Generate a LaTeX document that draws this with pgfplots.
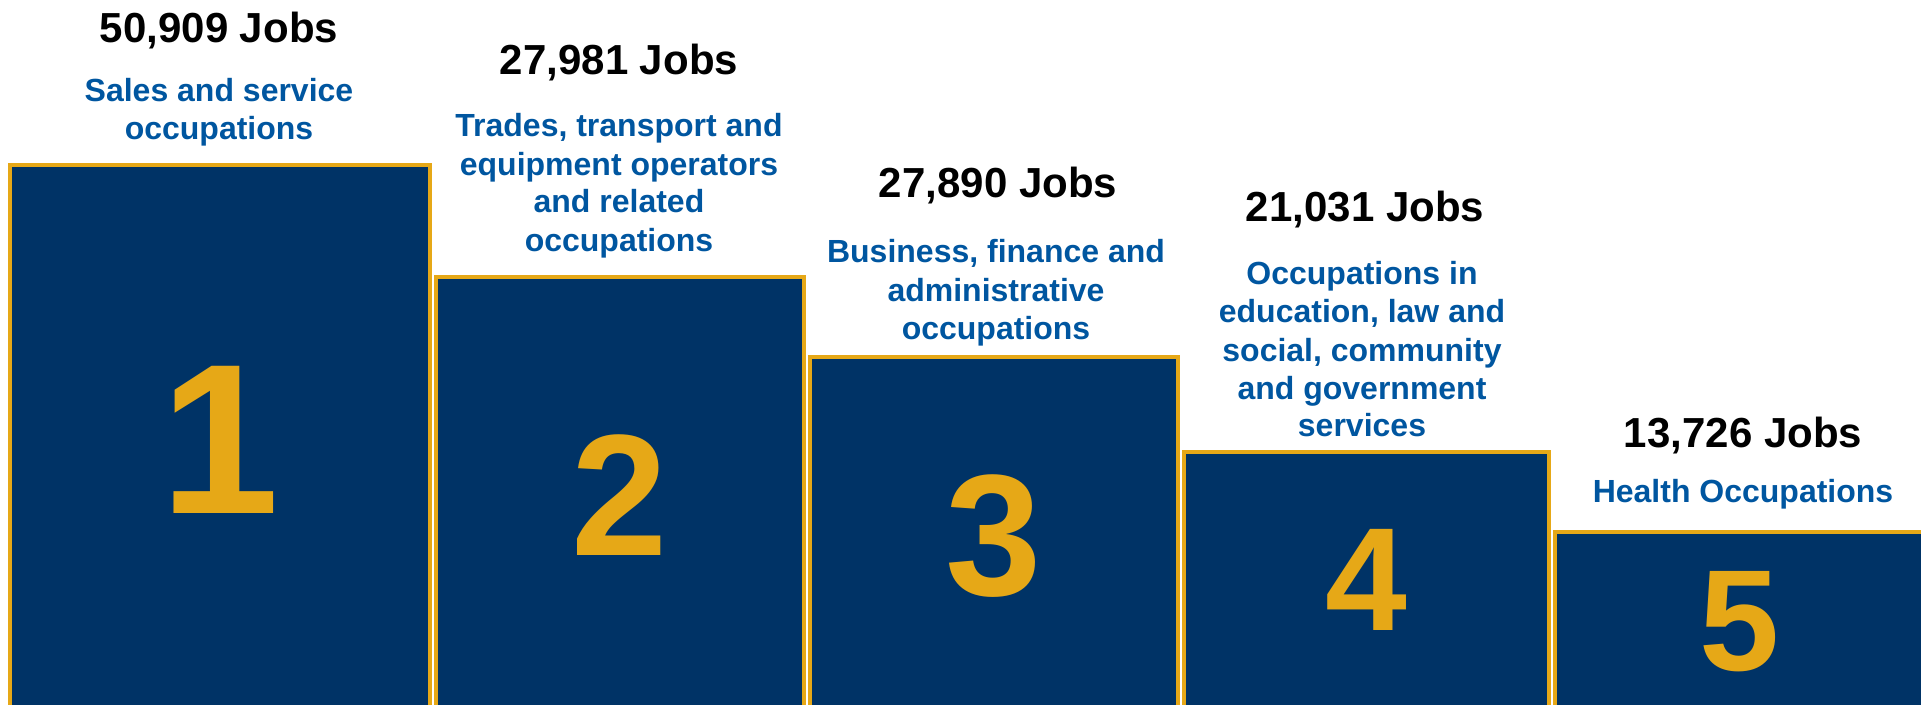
\documentclass[border=0pt]{standalone}
\usepackage{fontspec}
\setmainfont{Liberation Sans}
\usepackage{pgfplots}
\pgfplotsset{compat=1.18}
\definecolor{navy}{RGB}{0,51,102}
\definecolor{gold}{RGB}{230,168,23}
\definecolor{lblue}{RGB}{0,86,160}
\tikzset{
  jobs/.style={anchor=base, inner sep=0pt, font=\fontsize{21}{25}\selectfont\bfseries, text=black},
  occ/.style={anchor=base, inner sep=0pt, font=\fontsize{16}{19}\selectfont\bfseries, text=lblue},
  rank/.style={anchor=center, inner sep=0pt, text=gold}
}
\begin{document}
\begin{tikzpicture}
\useasboundingbox (0pt,5pt) rectangle (960.5pt,357.5pt);
\clip (0pt,5pt) rectangle (960.5pt,357.5pt);
\begin{axis}[
  at={(0pt,0pt)}, anchor=south west,
  scale only axis, width=960.5pt, height=357.5pt,
  xmin=0, xmax=1921, ymin=0, ymax=715,
  hide axis,
  ybar interval, bar interval width=0.984, bar interval shift=0.5,
  clip=false,
]
% podium heights (visual), x = bar edges
\addplot[fill=navy, draw=gold, line width=2pt] coordinates {(7,550) (433,438) (807,358) (1181,263) (1552,183) (1933,183)};

% job counts
\node[jobs] at (axis cs:219,672) {50,909 Jobs};
\node[jobs] at (axis cs:619,640) {27,981 Jobs};
\node[jobs] at (axis cs:998,517) {27,890 Jobs};
\node[jobs] at (axis cs:1365,493) {21,031 Jobs};
\node[jobs] at (axis cs:1743,267) {13,726 Jobs};

% occupations
\node[occ] at (axis cs:219,613) {Sales and service};
\node[occ] at (axis cs:219,575) {occupations};
\node[occ] at (axis cs:619,578) {Trades, transport and};
\node[occ] at (axis cs:619,539) {equipment operators};
\node[occ] at (axis cs:619,502) {and related};
\node[occ] at (axis cs:619,463) {occupations};
\node[occ] at (axis cs:996,452) {Business, finance and};
\node[occ] at (axis cs:996,413) {administrative};
\node[occ] at (axis cs:996,375) {occupations};
\node[occ] at (axis cs:1362,430) {Occupations in};
\node[occ] at (axis cs:1362,392) {education, law and};
\node[occ] at (axis cs:1362,353) {social, community};
\node[occ] at (axis cs:1362,315) {and government};
\node[occ] at (axis cs:1362,278) {services};
\node[occ] at (axis cs:1743,212) {Health Occupations};

% ranks
\node[rank, font=\fontsize{107}{120}\selectfont\bfseries] at (axis cs:220,275.5) {1};
\node[rank, font=\fontsize{86.5}{100}\selectfont\bfseries] at (axis cs:620,220) {2};
\node[rank, font=\fontsize{86.5}{100}\selectfont\bfseries] at (axis cs:994,179) {3};
\node[rank, font=\fontsize{73.5}{85}\selectfont\bfseries] at (axis cs:1366,135) {4};
\node[rank, font=\fontsize{72}{85}\selectfont\bfseries] at (axis cs:1740,93) {5};
\end{axis}
\end{tikzpicture}
\end{document}
